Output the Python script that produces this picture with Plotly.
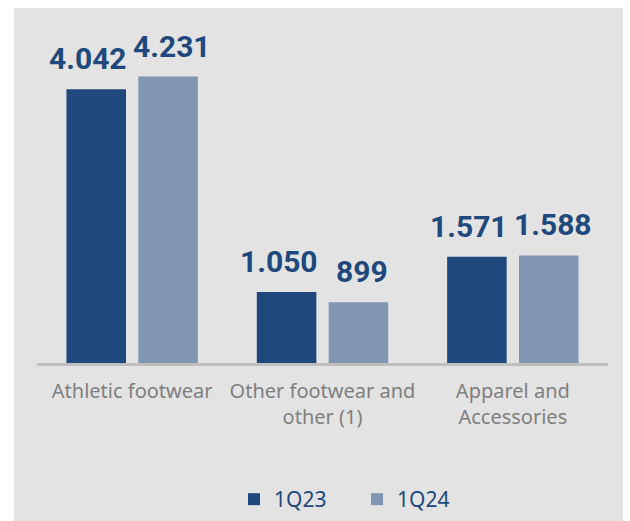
import plotly.graph_objects as go

categories = ["Athletic footwear", "Other footwear and<br>other (1)", "Apparel and<br>Accessories"]
series_names = ["1Q23", "1Q24"]
values_1q23 = [4042, 1050, 1571]
values_1q24 = [4231, 899, 1588]
colors = ["#1f497d", "#8096b1"]

BARGAP = 0.245
fig = go.Figure()
for name, vals, col in zip(series_names, [values_1q23, values_1q24], colors):
    fig.add_trace(go.Bar(x=categories, y=vals, name=name, marker_color=col,
                         marker_line_width=0, hoverinfo="skip"))

def fmt(v):
    return f"{v:,}".replace(",", ".")

slot = (1 - BARGAP) / 2
label_shift = [-8, 4]
annotations = []
for k, vals in enumerate([values_1q23, values_1q24]):
    off = (k - 0.5) * slot
    for i, v in enumerate(vals):
        annotations.append(dict(
            x=i + off, y=v, xref="x", yref="y", text=fmt(v), showarrow=False,
            yanchor="bottom", xanchor="center", yshift=11, xshift=label_shift[k],
            font=dict(family="Roboto", size=30, color="#1f497d", weight="bold")))

fig.update_layout(
    width=630, height=521,
    margin=dict(l=37, r=22, t=30, b=158, autoexpand=False),
    paper_bgcolor="white",
    plot_bgcolor="rgba(0,0,0,0)",
    barmode="group", bargap=BARGAP, bargroupgap=0.171,
    showlegend=True,
    legend=dict(orientation="h", x=0.345, xanchor="left", y=-0.41, yanchor="middle",
                font=dict(family="Noto Sans", size=21, color="#1f497d"),
                bgcolor="rgba(0,0,0,0)", entrywidth=78, entrywidthmode="pixels"),
    xaxis=dict(showline=True, linecolor="#bfbfbf", linewidth=2.5, showgrid=False,
               ticks="", tickfont=dict(family="Noto Sans", size=20, color="#7f7f7f"),
               ticklabelstandoff=8, range=[-0.5, 2.5], fixedrange=True),
    yaxis=dict(visible=False, range=[0, 4918], showgrid=False, zeroline=False),
    annotations=annotations,
    shapes=[dict(type="rect", xref="paper", yref="paper", x0=-0.0403, x1=1.0263,
                 y0=-0.48, y1=1.066, fillcolor="#e3e3e3", line_width=0, layer="below")],
)

fig.write_html("out.html")
